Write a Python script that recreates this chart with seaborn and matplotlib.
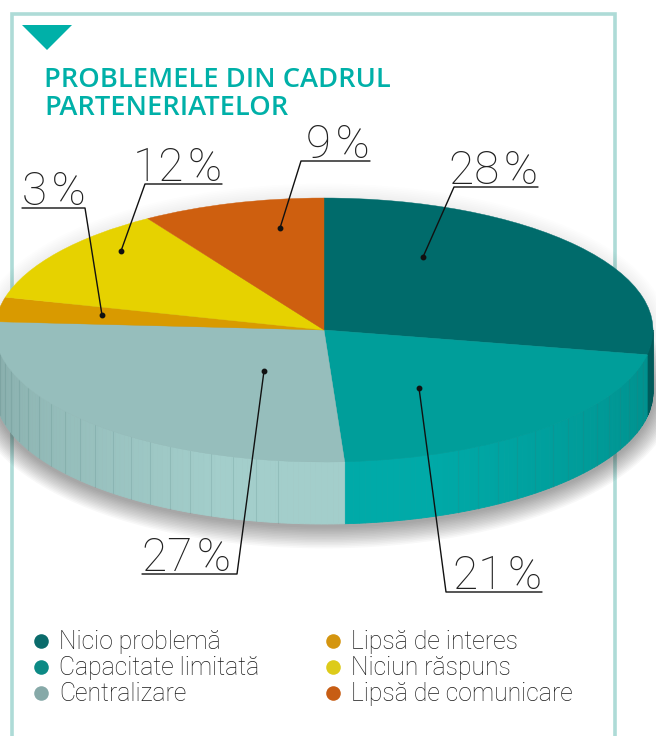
import matplotlib
matplotlib.use('Agg')
import matplotlib.pyplot as plt
from matplotlib.colors import to_rgb
from matplotlib.patches import Ellipse
import numpy as np
import seaborn as sns

# data
categories = ['Nicio problemă', 'Capacitate limitată', 'Centralizare',
              'Lipsă de interes', 'Niciun răspuns', 'Lipsă de comunicare']
values = [28, 21, 27, 3, 12, 9]
pct_labels = ['28\u200a%', '21\u200a%', '27\u200a%', '3\u200a%', '12\u200a%', '9\u200a%']

pie_colors = ['#006b6b', '#009e9a', '#96bebc', '#d99a00', '#e6d200', '#ce5f0f']
legend_colors = ['#0a6b6b', '#0c8a85', '#86a9a8', '#d4950f', '#ddcb1a', '#c75d14']
side_front = {0: '#006b6b', 1: '#00aaa8', 2: '#a3cecb'}
side_back = {0: '#005a5a', 1: '#008e8b', 2: '#87adab'}

sns.set_style('white')
plt.rcParams['font.family'] = ['Roboto', 'DejaVu Sans']

W, H = 656, 736
CX, CY, RX, RY, DEPTH = 324, 330, 329, 132, 62

fig = plt.figure(figsize=(W / 100, H / 100), dpi=100, facecolor='white')

# frame and triangle, pixel coordinates
bg = fig.add_axes([0, 0, 1, 1], zorder=0)
bg.set_xlim(0, W)
bg.set_ylim(H, 0)
bg.axis('off')
bg.plot([12, 12, 615, 615], [H, 14, 14, H], color='#aedbd7', lw=2.6, solid_joinstyle='miter')
bg.fill([22, 72, 47], [25, 25, 50], color='#00b0a8', lw=0)

# pie axes, squashed so that the circle of radius 1 becomes the ellipse
ax = fig.add_axes([0, 0, 1, 1], zorder=1)
ax.patch.set_alpha(0)
depth = DEPTH / RY

# soft shadow
for k in range(14):
    grow = (14 - k) * 1.6
    ax.add_patch(Ellipse((0, -(DEPTH + 2) / RY), 2 * (RX + grow) / RX, 2 * (RY + grow) / RY,
                         color='black', alpha=0.026, lw=0, zorder=1))
for k in range(8):
    grow = (8 - k) * 1.8
    ax.add_patch(Ellipse((0, 0), 2 * (RX + grow) / RX, 2 * (RY + grow) / RY,
                         color='black', alpha=0.009, lw=0, zorder=1))

# side wall, cut from the slice angles
ends = 90 - 3.6 * np.cumsum(values)
starts = np.r_[90, ends[:-1]]
for i in side_front:
    a0, a1 = min(starts[i], 0), max(ends[i], -180)
    facets = np.r_[np.arange(a0, a1 - 1e-6, -1.0), a1]
    c_f, c_b = np.array(to_rgb(side_front[i])), np.array(to_rgb(side_back[i]))
    for b0, b1 in zip(facets[:-1], facets[1:]):
        t = min(1, max(0, (abs((b0 + b1) / 2 + 90) - 18) / 68))
        col = c_f + (c_b - c_f) * t
        th = np.radians(np.linspace(b0, b1, 4))
        xs = np.r_[np.cos(th), np.cos(th[::-1])]
        ys = np.r_[np.sin(th), np.sin(th[::-1]) - depth]
        ax.fill(xs, ys, facecolor=col, edgecolor=col, lw=0.6, zorder=2)
    lines = {1: np.arange(-66, a0, 4.0), 2: np.arange(-98, a1, -4.0)}.get(i, [])
    for b in lines:
        t = np.radians(b)
        ax.plot([np.cos(t)] * 2, [np.sin(t), np.sin(t) - depth], color='#3f6f6d', alpha=0.16, lw=0.8, zorder=3)

wedges, _ = ax.pie(values, colors=pie_colors, startangle=90, counterclock=False, radius=1,
                   wedgeprops={'lw': 0.3})
for i, w in enumerate(wedges):
    w.set_edgecolor(pie_colors[i])
    w.set_zorder(4)
ax.set_aspect('auto')
ax.set_xlim(-CX / RX, (W - CX) / RX)
ax.set_ylim((CY - H) / RY, CY / RY)
ax.axis('off')

# labels and legend, pixel coordinates
top = fig.add_axes([0, 0, 1, 1], zorder=2)
top.patch.set_alpha(0)
top.set_xlim(0, W)
top.set_ylim(H, 0)
top.axis('off')

for y, line in [(87, 'PROBLEMELE DIN CADRUL'), (115, 'PARTENERIATELOR')]:
    top.text(44, y, line, color='#00b0a8', fontsize=19.6, fontweight='semibold',
             family=['Open Sans', 'DejaVu Sans'], va='baseline', ha='left')

leaders = [
    [(423, 257), (454, 187), (538, 187)],
    [(419, 388), (446, 592), (542, 592)],
    [(264, 371), (237, 574), (142, 574)],
    [(102, 315), (85, 208), (22, 208)],
    [(121, 251), (145, 184), (222, 184)],
    [(280, 228), (301, 161), (370, 161)],
]
for label, pts in zip(pct_labels, leaders):
    xs, ys = zip(*pts)
    top.plot(xs, ys, color='#111111', lw=1.0)
    top.plot(xs[0], ys[0], 'o', color='#111111', ms=3.2)
    ha = 'right' if xs[2] > xs[1] else 'left'
    top.text(xs[2], ys[2] - 3, label, fontsize=33, fontweight='light', color='#222222',
             ha=ha, va='baseline')

rows = [641, 667, 693]
for i, name in enumerate(categories):
    x0 = 41 if i < 3 else 333
    y0 = rows[i % 3]
    top.scatter([x0], [y0], s=110, color=legend_colors[i], lw=0)
    top.text(x0 + 18, y0 + 8, name, fontsize=17.8, fontweight='light', color='#1a1a1a',
             ha='left', va='baseline')

fig.savefig('out.png', dpi=100, facecolor='white')
